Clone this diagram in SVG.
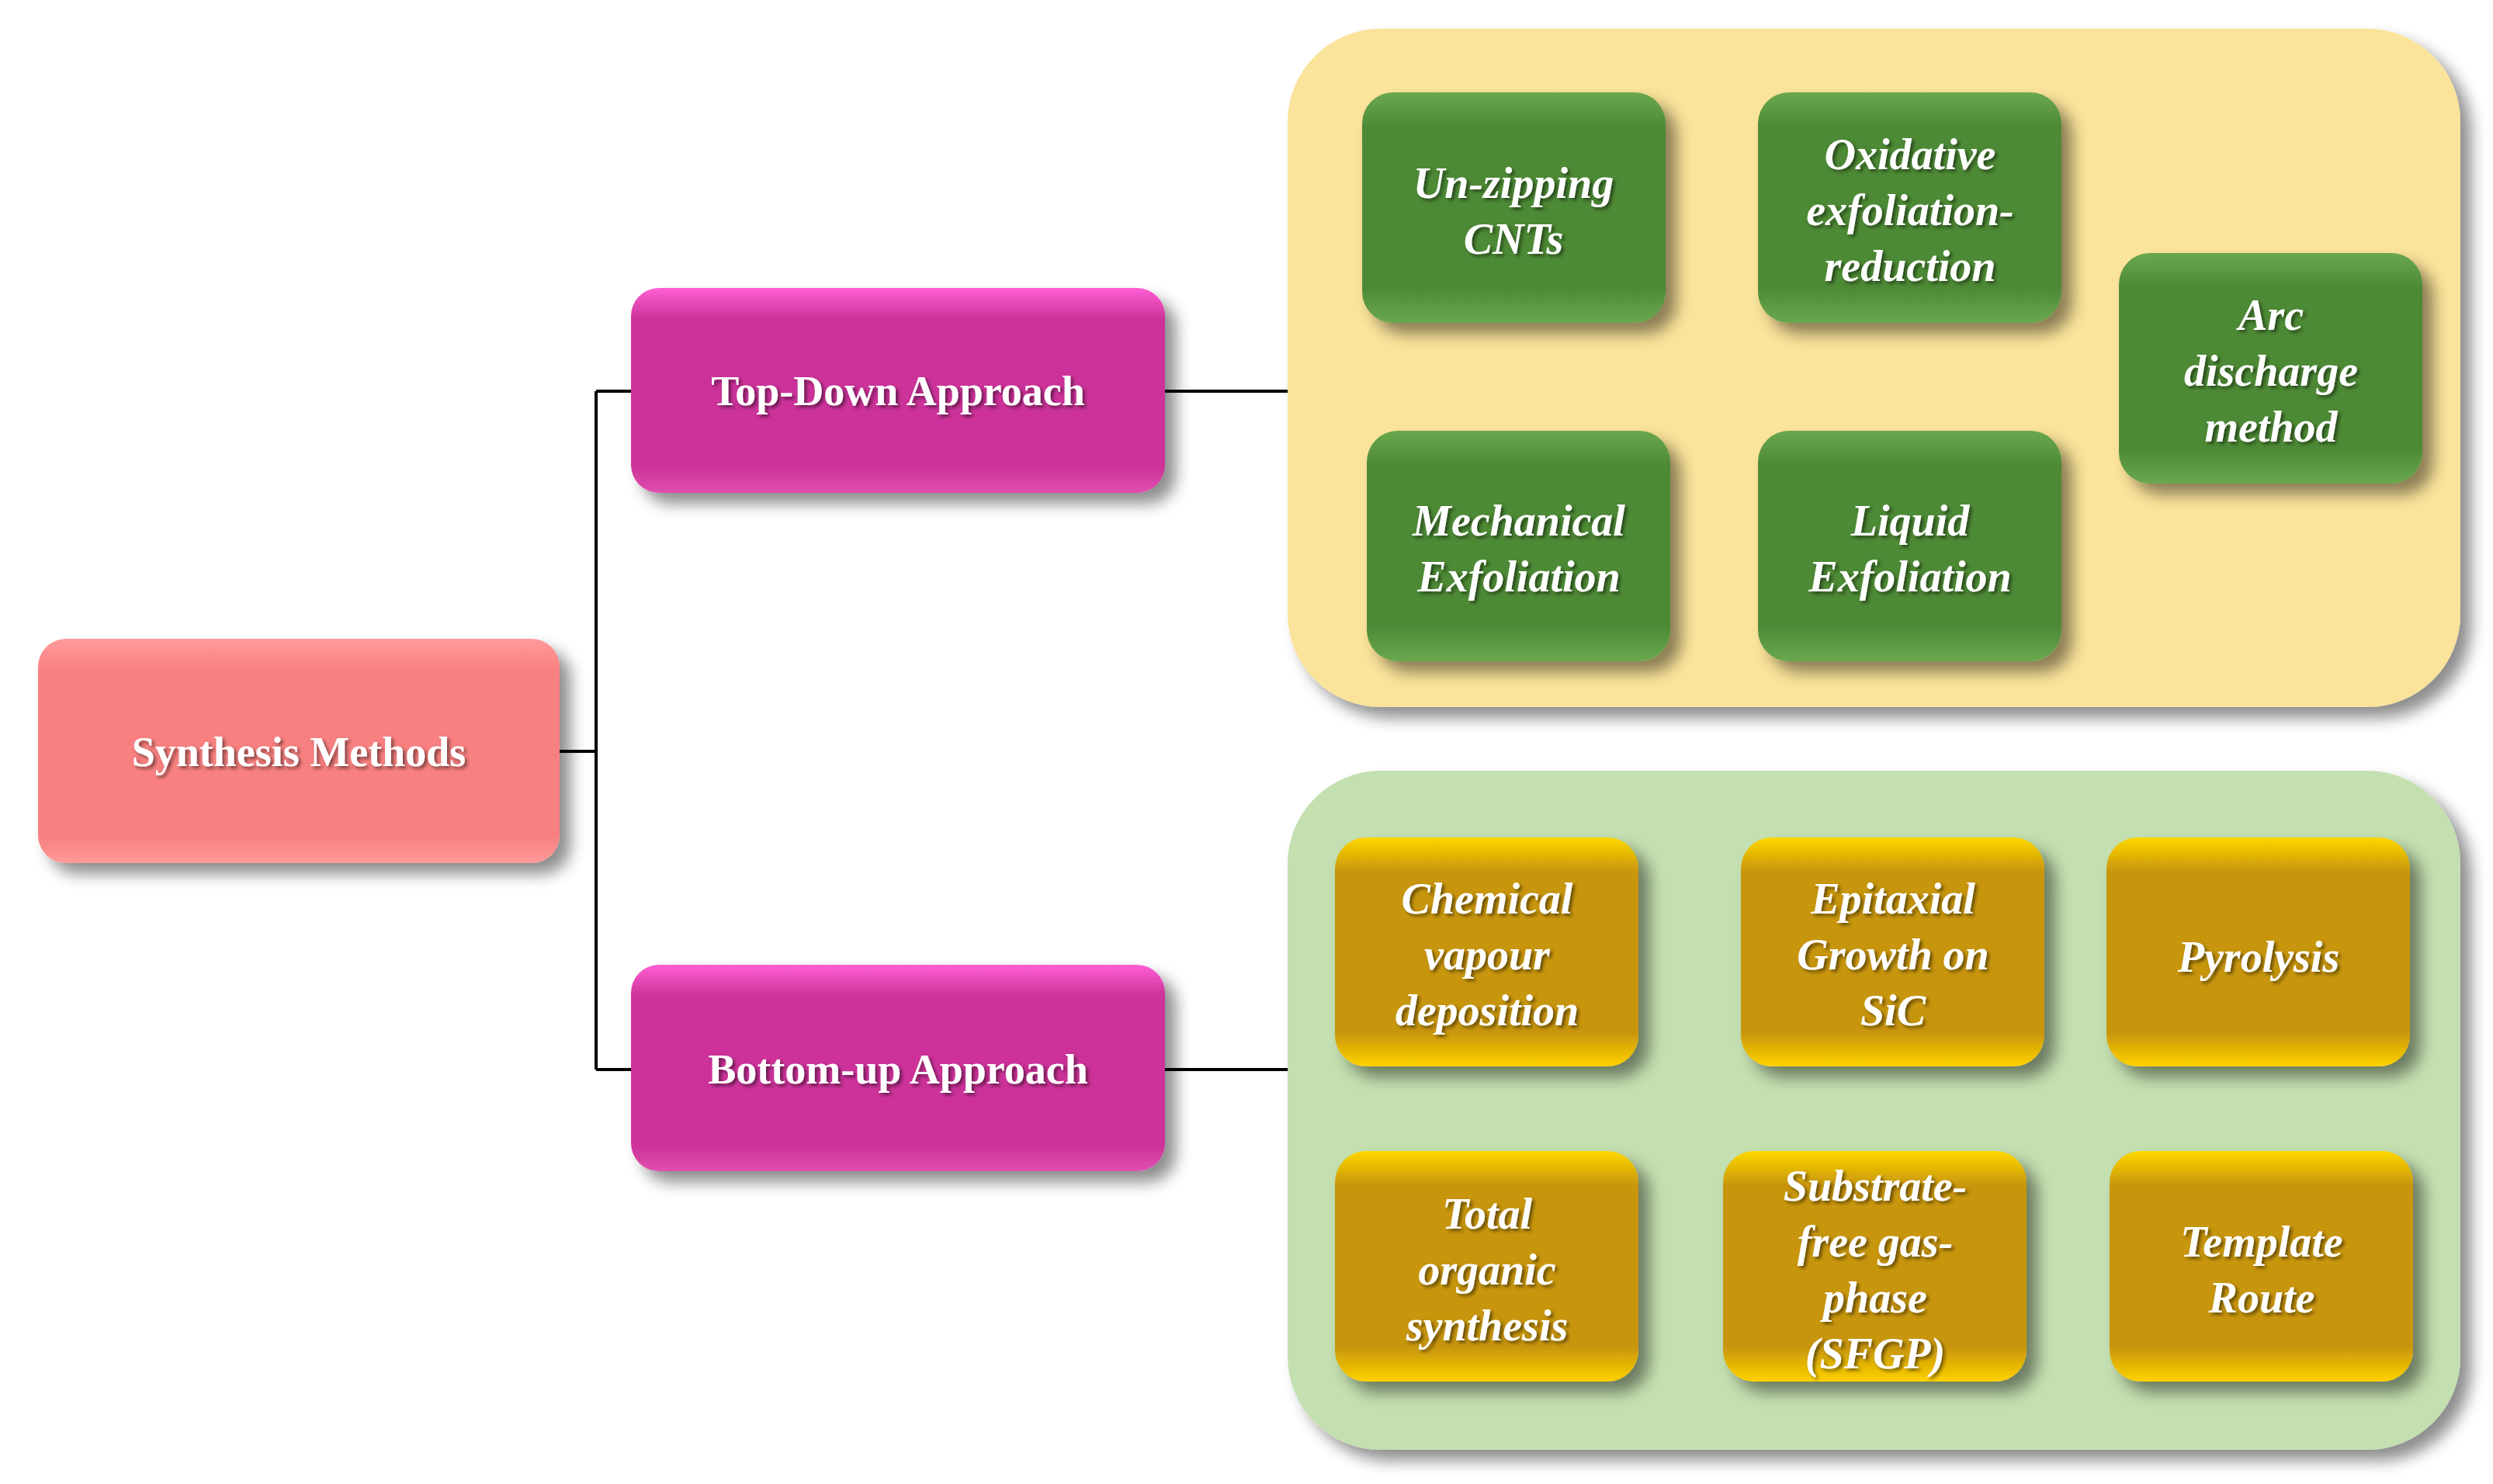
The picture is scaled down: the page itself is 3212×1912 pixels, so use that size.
<svg xmlns="http://www.w3.org/2000/svg" width="3212" height="1912" viewBox="0 0 3212 1912">
<defs>
<filter id="sh" x="-20%" y="-20%" width="150%" height="150%"><feGaussianBlur in="SourceAlpha" stdDeviation="10"/><feOffset dx="14" dy="14"/><feComponentTransfer><feFuncA type="linear" slope="0.45"/></feComponentTransfer><feMerge><feMergeNode/><feMergeNode in="SourceGraphic"/></feMerge></filter>
<filter id="ts"><feDropShadow dx="3" dy="3" stdDeviation="2" flood-color="#000" flood-opacity="0.5"/></filter>
<linearGradient id="gG" x1="0" y1="0" x2="0" y2="1"><stop offset="0" stop-color="#6aa84f"/><stop offset="0.15" stop-color="#4e8a36"/><stop offset="0.85" stop-color="#4e8a36"/><stop offset="1" stop-color="#6aa84f"/></linearGradient>
<linearGradient id="gY" x1="0" y1="0" x2="0" y2="1"><stop offset="0" stop-color="#ffd700"/><stop offset="0.15" stop-color="#c8960a"/><stop offset="0.85" stop-color="#c8960a"/><stop offset="1" stop-color="#ffd200"/></linearGradient>
<linearGradient id="gM" x1="0" y1="0" x2="0" y2="1"><stop offset="0" stop-color="#ff5fd5"/><stop offset="0.15" stop-color="#cc3399"/><stop offset="0.88" stop-color="#cc3399"/><stop offset="1" stop-color="#e050b0"/></linearGradient>
<linearGradient id="gS" x1="0" y1="0" x2="0" y2="1"><stop offset="0" stop-color="#ff9a9a"/><stop offset="0.15" stop-color="#f88080"/><stop offset="0.88" stop-color="#f88080"/><stop offset="1" stop-color="#ff9a9a"/></linearGradient>
</defs>
<style>
.t{font-family:"Liberation Serif",serif;font-weight:bold;fill:#fff;text-anchor:middle;filter:url(#ts)}
.m{font-size:54px}
.i{font-size:56px;font-style:italic}
.c{stroke:#000;stroke-width:4;fill:none}
</style>
<rect width="3212" height="1912" fill="#fff"/>
<g id="panel-top"><rect x="1659" y="37" width="1511" height="874" rx="120" fill="#fae39a" filter="url(#sh)"/></g>
<g id="panel-bottom"><rect x="1659" y="993" width="1511" height="875" rx="120" fill="#c4dfb0" filter="url(#sh)"/></g>
<g id="connectors">
<path class="c" d="M721 968H768M768 504V1378M768 504H813M768 1378H813M1501 504H1659M1501 1378H1659"/>
</g>
<g id="synthesis"><rect x="49" y="823" width="672" height="289" rx="36" fill="url(#gS)" filter="url(#sh)"/><text class="t m" x="385" y="987">Synthesis Methods</text></g>
<g id="topdown"><rect x="813" y="371" width="688" height="264" rx="36" fill="url(#gM)" filter="url(#sh)"/><text class="t m" x="1157" y="522">Top-Down Approach</text></g>
<g id="bottomup"><rect x="813" y="1243" width="688" height="266" rx="36" fill="url(#gM)" filter="url(#sh)"/><text class="t m" x="1157" y="1396">Bottom-up Approach</text></g>
<g id="unzip"><rect x="1755" y="119" width="391" height="297" rx="40" fill="url(#gG)" filter="url(#sh)"/><text class="t i" x="1950" y="255">Un-zipping</text><text class="t i" x="1950" y="327">CNTs</text></g>
<g id="oxid"><rect x="2265" y="119" width="391" height="297" rx="40" fill="url(#gG)" filter="url(#sh)"/><text class="t i" x="2461" y="218">Oxidative</text><text class="t i" x="2461" y="290">exfoliation-</text><text class="t i" x="2461" y="362">reduction</text></g>
<g id="arc"><rect x="2730" y="326" width="391" height="297" rx="40" fill="url(#gG)" filter="url(#sh)"/><text class="t i" x="2926" y="425">Arc</text><text class="t i" x="2926" y="497">discharge</text><text class="t i" x="2926" y="569">method</text></g>
<g id="mech"><rect x="1761" y="555" width="391" height="297" rx="40" fill="url(#gG)" filter="url(#sh)"/><text class="t i" x="1957" y="690">Mechanical</text><text class="t i" x="1957" y="762">Exfoliation</text></g>
<g id="liquid"><rect x="2265" y="555" width="391" height="297" rx="40" fill="url(#gG)" filter="url(#sh)"/><text class="t i" x="2461" y="690">Liquid</text><text class="t i" x="2461" y="762">Exfoliation</text></g>
<g id="cvd"><rect x="1720" y="1079" width="391" height="295" rx="40" fill="url(#gY)" filter="url(#sh)"/><text class="t i" x="1916" y="1177">Chemical</text><text class="t i" x="1916" y="1249">vapour</text><text class="t i" x="1916" y="1321">deposition</text></g>
<g id="epi"><rect x="2243" y="1079" width="391" height="295" rx="40" fill="url(#gY)" filter="url(#sh)"/><text class="t i" x="2439" y="1177">Epitaxial</text><text class="t i" x="2439" y="1249">Growth on</text><text class="t i" x="2439" y="1321">SiC</text></g>
<g id="pyro"><rect x="2714" y="1079" width="391" height="295" rx="40" fill="url(#gY)" filter="url(#sh)"/><text class="t i" x="2910" y="1252">Pyrolysis</text></g>
<g id="total"><rect x="1720" y="1483" width="391" height="297" rx="40" fill="url(#gY)" filter="url(#sh)"/><text class="t i" x="1916" y="1583">Total</text><text class="t i" x="1916" y="1655">organic</text><text class="t i" x="1916" y="1727">synthesis</text></g>
<g id="sfgp"><rect x="2220" y="1483" width="391" height="297" rx="40" fill="url(#gY)" filter="url(#sh)"/><text class="t i" x="2416" y="1547">Substrate-</text><text class="t i" x="2416" y="1619">free gas-</text><text class="t i" x="2416" y="1691">phase</text><text class="t i" x="2416" y="1763">(SFGP)</text></g>
<g id="template"><rect x="2718" y="1483" width="391" height="297" rx="40" fill="url(#gY)" filter="url(#sh)"/><text class="t i" x="2914" y="1619">Template</text><text class="t i" x="2914" y="1691">Route</text></g>
</svg>
